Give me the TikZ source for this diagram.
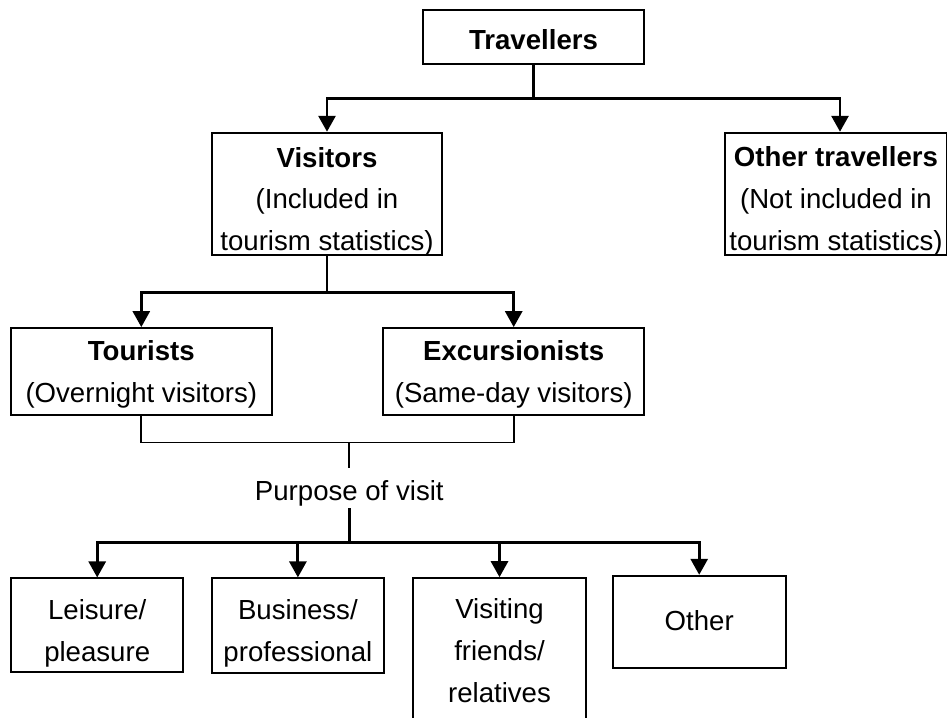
\documentclass[tikz,border=0pt]{standalone}
\usepackage{fontspec}
\setmainfont{Liberation Sans}
\usetikzlibrary{arrows.meta}
\begin{document}
\begin{tikzpicture}[x=1pt,y=-1pt,
  box/.style={draw, line width=1.8pt, rectangle, inner sep=0pt},
  plain/.style={inner sep=0pt, align=center, font=\fontsize{27.6}{41.6}\selectfont},
  thickline/.style={line width=2.9pt},
  thinline/.style={line width=1.8pt},
  arrowline/.style={line width=2.9pt, -{Triangle[width=17pt,length=16pt]}}
]
\useasboundingbox (0,0) rectangle (947,717);

% a framed box (name, x, y, width, height, text offset, text)
\newcommand{\framedbox}[7]{%
  \node[box, minimum width=#4, minimum height=#5] (#1) at (#2,#3) {};
  \node[plain] (#1-text) at (#2,#3+#6) {#7};}

% top level
\framedbox{trav}{533.5}{37}{221}{54}{3}{\textbf{Travellers}}
\framedbox{vis}{327}{193.8}{230}{122.3}{7.8}{\textbf{Visitors}\\(Included in\\tourism statistics)}
\framedbox{oth}{836}{193.8}{221.4}{122.3}{7.5}{\textbf{Other travellers}\\(Not included in\\tourism statistics)}

% visitor types
\framedbox{tour}{141.3}{371.5}{260.7}{87}{2.8}{\textbf{Tourists}\\(Overnight visitors)}
\framedbox{exc}{513.7}{371.5}{260.7}{87}{2.8}{\textbf{Excursionists}\\(Same-day visitors)}

\node[plain, anchor=base, text height=32pt, text depth=8pt] (purp) at (349.3,500) {Purpose of visit};

% purposes
\framedbox{leis}{97.2}{625.2}{172.3}{93.7}{8.3}{Leisure/\\pleasure}
\framedbox{bus}{297.9}{625.5}{172.3}{94.4}{8}{Business/\\professional}
\framedbox{visf}{499.5}{650.6}{172.4}{145}{0}{Visiting\\friends/\\relatives}
\framedbox{othr}{699.2}{621.7}{173}{92}{-1}{Other}

% connectors
\draw[thickline] (trav.south) -- ++(0,34) coordinate (j1);
\draw[arrowline] (j1) -| (vis.north);
\draw[arrowline] (j1) -| ([xshift=4pt]oth.north);

\draw[thickline] (vis.south) -- ++(0,36.7) coordinate (j2);
\draw[arrowline] (j2) -| (tour.north);
\draw[arrowline] (j2) -| (exc.north);

\draw[thinline] (tour.south) -- ++(0,26.5) coordinate (brl) -- (brl -| exc.south) -- (exc.south);
\draw[thinline] (brl -| purp.north) -- (purp.north);

\draw[thickline] (purp.south) -- ++(0,34.5) coordinate (j3);
\draw[arrowline] (j3) -| (leis.north);
\draw[arrowline] (j3) -| (bus.north);
\draw[arrowline] (j3) -| (visf.north);
\draw[arrowline] (j3) -| (othr.north);
\end{tikzpicture}
\end{document}
